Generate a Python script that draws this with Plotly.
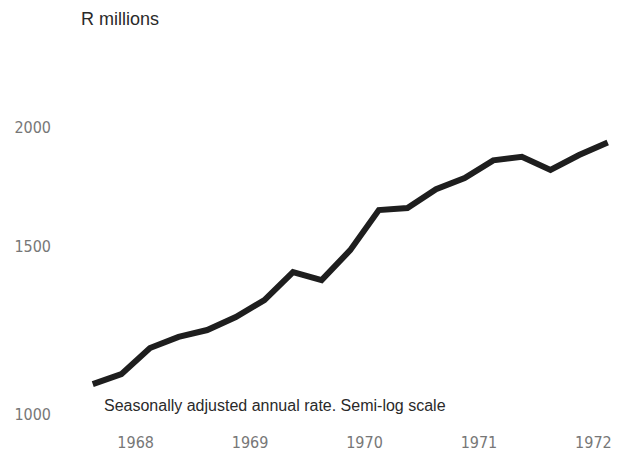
import plotly.graph_objects as go

# Quarterly data, 1967 Q3 .. 1972 Q1 (plotted at mid-quarter)
quarters = ["1967 Q3", "1967 Q4",
            "1968 Q1", "1968 Q2", "1968 Q3", "1968 Q4",
            "1969 Q1", "1969 Q2", "1969 Q3", "1969 Q4",
            "1970 Q1", "1970 Q2", "1970 Q3", "1970 Q4",
            "1971 Q1", "1971 Q2", "1971 Q3", "1971 Q4",
            "1972 Q1"]
values = [1075, 1101, 1173, 1205, 1225, 1264, 1317, 1409, 1382, 1486,
          1637, 1645, 1722, 1769, 1846, 1862, 1804, 1870, 1927]

year_ticks = [1968, 1969, 1970, 1971, 1972]
year_labels = ["1968", "1969", "1970", "1971", "1972"]
y_ticks = [1000, 1500, 2000]
y_labels = ["1000", "1500", "2000"]


def qpos(q):
    y, qq = q.split(" Q")
    return int(y) + (int(qq) - 1) * 0.25 + 0.125


xs = [qpos(q) for q in quarters]

# page body has an 8px default margin
OFF = 8
W, H = 628 - OFF, 456 - OFF
L, R, T, B = 67 - OFF, 6, 100 - OFF, 34
pw, ph = W - L - R, H - T - B

fig = go.Figure()
fig.add_trace(go.Scatter(
    x=xs, y=values, mode="lines",
    line=dict(color="#1e1e1e", width=6),
    hoverinfo="skip", showlegend=False,
))

tick_font = dict(family="DejaVu Sans Condensed, Liberation Sans Narrow, Arial Narrow, sans-serif",
                 size=16, color="#777777")

fig.update_layout(
    width=W, height=H,
    margin=dict(l=L, r=R, t=T, b=B),
    paper_bgcolor="white", plot_bgcolor="white",
    xaxis=dict(range=[1967.4, 1972.25], tickvals=year_ticks, ticktext=year_labels,
               showgrid=False, zeroline=False, showline=False, ticks="",
               tickfont=tick_font, ticklabelstandoff=9, automargin=False),
    yaxis=dict(type="log", range=[2.99160, 3.3296], tickvals=y_ticks, ticktext=y_labels,
               showgrid=False, zeroline=False, showline=False, ticks="",
               tickfont=tick_font, ticklabelstandoff=15, automargin=False),
    annotations=[
        dict(text="R millions", xref="paper", yref="paper",
             x=(80 - OFF - L) / pw, y=(H - B) / ph, xanchor="left", yanchor="top",
             showarrow=False, borderpad=0,
             font=dict(family="Liberation Sans, Arial, sans-serif", size=18, color="#2a2a2a")),
        dict(text="Seasonally adjusted annual rate. Semi-log scale", xref="paper", yref="paper",
             x=(102 - OFF - L) / pw, y=(H - B - (405 - OFF)) / ph, xanchor="left", yanchor="middle",
             showarrow=False,
             font=dict(family="Liberation Sans, Arial, sans-serif", size=16, color="#2a2a2a")),
    ],
)

fig.write_html("out.html")
